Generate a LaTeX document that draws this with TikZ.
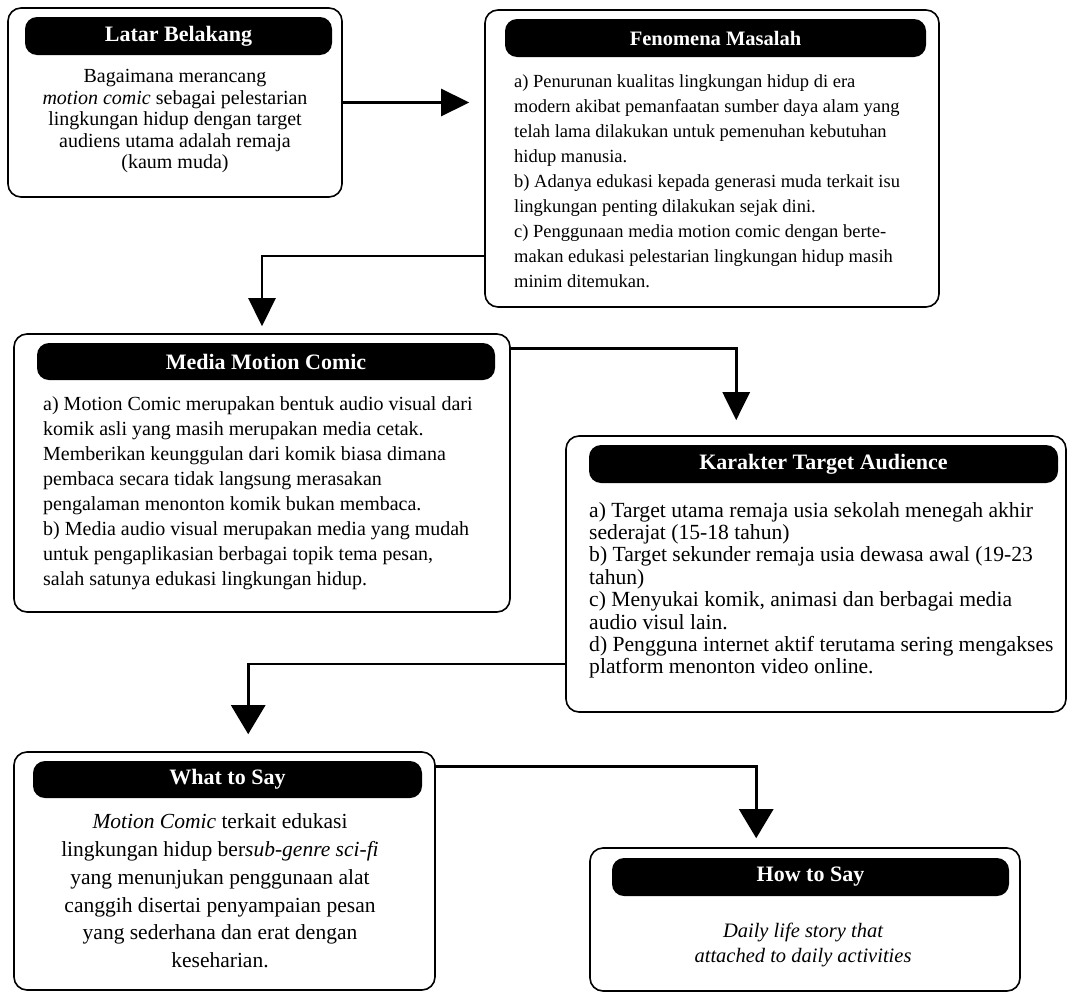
\documentclass[tikz,border=0pt]{standalone}
\usepackage{fontspec}
\setmainfont{Liberation Serif}
\usetikzlibrary{arrows.meta}

\tikzset{
  box/.style={draw, line width=1.6pt, rounded corners=13pt, inner sep=0pt},
  headbar/.style={fill=black, rounded corners=12pt, inner sep=0pt, text=white,
    font=\bfseries\fontsize{22}{24}\selectfont},
  bodytext/.style={inner sep=0pt},
  flow/.style={line width=2.6pt, -{Triangle[width=27pt,length=28pt]}},
  bigflow/.style={line width=2.6pt, -{Triangle[width=34pt,length=29pt]}},
}

\begin{document}
\begin{tikzpicture}[x=1pt, y=-1pt]
  \useasboundingbox (0,0) rectangle (1068,993);

  % the six frames
  \node[box, minimum width=334pt, minimum height=189pt] (latar) at (175,102.5) {};
  \node[box, minimum width=454pt, minimum height=297pt] (fenomena) at (712,158.5) {};
  \node[box, minimum width=496pt, minimum height=278pt] (media) at (262,473) {};
  \node[box, minimum width=500pt, minimum height=276pt] (karakter) at (816,574) {};
  \node[box, minimum width=421pt, minimum height=238pt] (what) at (224.5,871) {};
  \node[box, minimum width=430pt, minimum height=143pt] (how) at (805,919.5) {};

  % black title bars
  \node[headbar, minimum width=307pt, minimum height=38pt] (latarhead) at (178.5,36) {Latar Belakang};
  \node[headbar, minimum width=421pt, minimum height=38pt,
    font=\bfseries\fontsize{20.5}{24}\selectfont] (fenomenahead) at (715.5,38) {Fenomena Masalah};
  \node[headbar, minimum width=458pt, minimum height=37pt] (mediahead) at (266,361.5) {Media Motion Comic};
  \node[headbar, minimum width=469pt, minimum height=38pt] (karakterhead) at (823.5,464) {Karakter Target Audience};
  \node[headbar, minimum width=389pt, minimum height=37pt] (whathead) at (227.5,779.5) {What to Say};
  \node[headbar, minimum width=397pt, minimum height=38pt] (howhead) at (810.5,877) {How to Say};

  % contents
  \node[bodytext, anchor=north, align=center, font=\fontsize{20}{21.4}\selectfont]
    (latartext) at (175,69.5) {Bagaimana merancang\\
    \textit{motion comic} sebagai pelestarian\\
    lingkungan hidup dengan target\\
    audiens utama adalah remaja\\
    (kaum muda)};

  \node[bodytext, anchor=north west, align=left, font=\fontsize{18.5}{25}\selectfont]
    (fenomenatext) at (514,74) {a) Penurunan kualitas lingkungan hidup di era\\
    modern akibat pemanfaatan sumber daya alam yang\\
    telah lama dilakukan untuk pemenuhan kebutuhan\\
    hidup manusia.\\
    b) Adanya edukasi kepada generasi muda terkait isu\\
    lingkungan penting dilakukan sejak dini.\\
    c) Penggunaan media motion comic dengan berte-\\
    makan edukasi pelestarian lingkungan hidup masih\\
    minim ditemukan.};

  \node[bodytext, anchor=north west, align=left, font=\fontsize{20}{25}\selectfont]
    (mediatext) at (43,396.5) {a) Motion Comic merupakan bentuk audio visual dari\\
    komik asli yang masih merupakan media cetak.\\
    Memberikan keunggulan dari komik biasa dimana\\
    pembaca secara tidak langsung merasakan\\
    pengalaman menonton komik bukan membaca.\\
    b) Media audio visual merupakan media yang mudah\\
    untuk pengaplikasian berbagai topik tema pesan,\\
    salah satunya edukasi lingkungan hidup.};

  \node[bodytext, anchor=north west, align=left, font=\fontsize{21.6}{22.4}\selectfont]
    (karaktertext) at (589,502) {a) Target utama remaja usia sekolah menegah akhir\\
    sederajat (15-18 tahun)\\
    b) Target sekunder remaja usia dewasa awal (19-23\\
    tahun)\\
    c) Menyukai komik, animasi dan berbagai media\\
    audio visul lain.\\
    d) Pengguna internet aktif terutama sering mengakses\\
    platform menonton video online.};

  \node[bodytext, anchor=north, align=center, font=\fontsize{21.5}{27.8}\selectfont]
    (whattext) at (220,813.5) {\textit{Motion Comic} terkait edukasi\\
    lingkungan hidup ber\textit{sub-genre sci-fi}\\
    yang menunjukan penggunaan alat\\
    canggih disertai penyampaian pesan\\
    yang sederhana dan erat dengan\\
    keseharian.};

  \node[bodytext, anchor=north, align=center, font=\itshape\fontsize{20.5}{25}\selectfont]
    (howtext) at (803,923) {Daily life story that\\
    attached to daily activities};

  % arrows between frames
  \draw[flow, shorten >=15pt] (latar.east) -- (latar.east -| fenomena.west);
  \draw[flow, shorten >=7pt] ([yshift=52pt]fenomena.south west) -| (media.north);
  \draw[flow, shorten >=15pt] ([yshift=-15pt]media.north east) -| ([xshift=171pt]karakter.north west);
  \draw[bigflow, shorten >=17pt] ([yshift=49pt]karakter.south west) -| ([xshift=235pt]what.north west);
  \draw[bigflow, shorten >=9pt] ([yshift=-15pt]what.north east) -| ([xshift=167pt]how.north west);

\end{tikzpicture}
\end{document}
